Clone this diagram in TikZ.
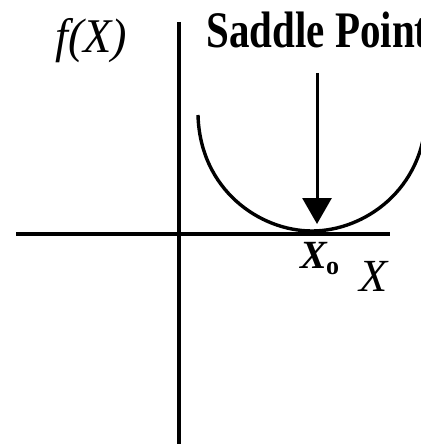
\documentclass[tikz,border=0pt]{standalone}
\usepackage{fontspec}
\setmainfont{Liberation Serif}
\usetikzlibrary{positioning,arrows.meta}

\begin{document}
\begin{tikzpicture}[x=0.5pt, y=-0.5pt, >={Triangle[width=14.5pt,length=13pt]}]
  \useasboundingbox (0,0) rectangle (421,444);
  % axes
  \draw[line width=2pt] (16,234) -- (390,234);
  \draw[line width=2pt] (179,22) -- (179,444);
  % curve
  \draw[line width=1.7pt] (198,115) .. controls (200,190) and (260,231) .. (312,231)
    .. controls (364,231) and (424,190) .. (426,115);
  % labels
  \node[anchor=base west, inner sep=0pt, font=\fontsize{22}{25}\selectfont\itshape] (fx) at (55,53) {\scalebox{1.05}[1.1]{f(X)}};
  \node[anchor=base west, inner sep=0pt, font=\fontsize{20.5}{24}\selectfont\bfseries] (saddle) at (206,48) {\scalebox{1}[1.25]{Saddle Point}};
  \node[anchor=base west, inner sep=0pt, font=\fontsize{20}{24}\selectfont\itshape\bfseries] (xo) at (300,268)
    {X\kern-0.5pt\raisebox{-3pt}{\fontsize{13}{13}\selectfont\upshape o}};
  \node[anchor=base west, inner sep=0pt, font=\fontsize{23}{26}\selectfont\itshape] (xlab) at (359,291) {X};
  \coordinate (top) at (317,73);
  \coordinate (tip) at (317,224);
  \draw[->, line width=1.5pt] (top) -- (tip);
\end{tikzpicture}
\end{document}
